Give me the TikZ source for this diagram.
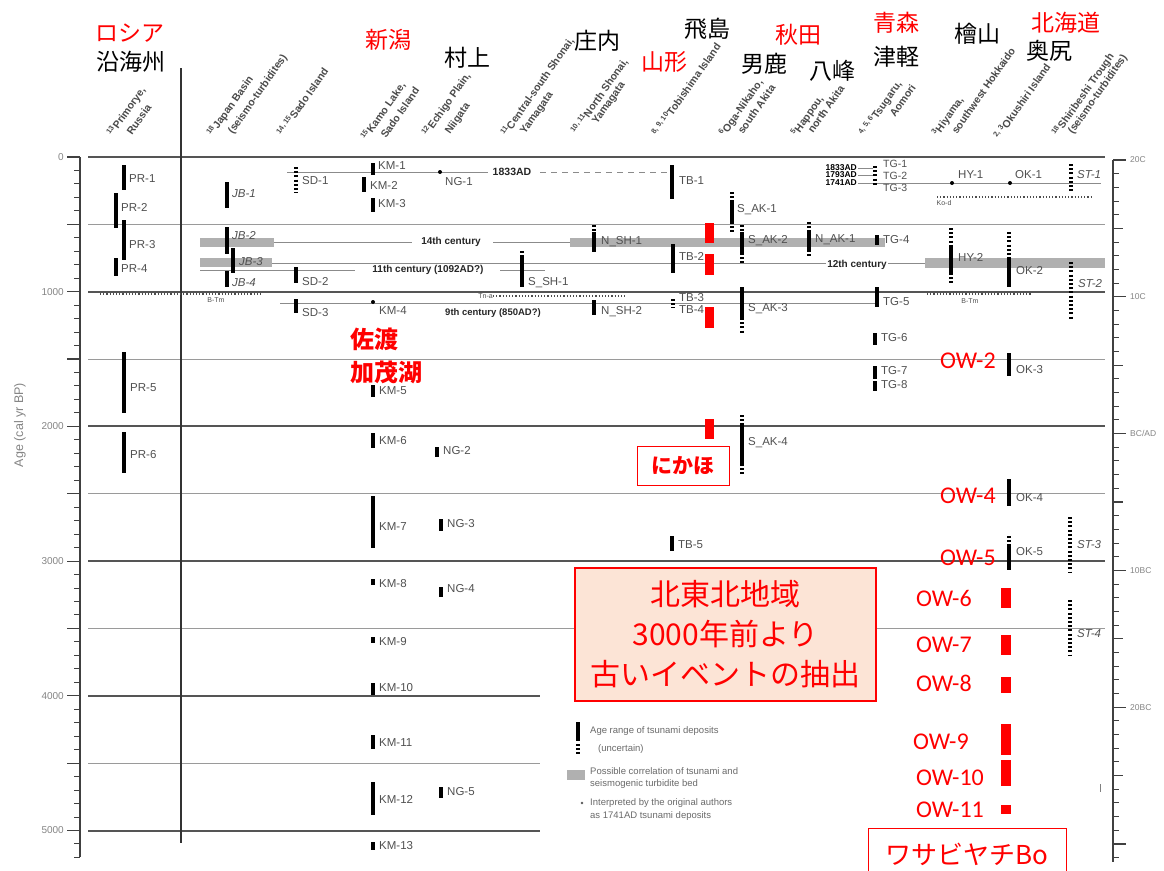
\documentclass[tikz,border=0pt]{standalone}
\usepackage{fontspec}
\setmainfont{Liberation Sans}
\newfontfamily\cjk{Noto Sans CJK JP}
\newfontfamily\calf{Carlito}
\definecolor{majgray}{HTML}{555555}
\definecolor{mingray}{HTML}{9A9A9A}
\definecolor{labgray}{HTML}{505050}
\definecolor{bandgray}{HTML}{B0B0B0}
\definecolor{peach}{HTML}{FCE4D6}
\definecolor{hdrgray}{HTML}{4A4A4A}
\definecolor{axgray}{HTML}{858585}
\definecolor{leggray}{HTML}{6A6A6A}
\tikzset{
  tbar/.style={line width=3.2pt, black},
  dbar/.style={line width=3.2pt, black, dash pattern=on 2pt off 2.2pt},
  lab/.style={font=\fontsize{11.5}{12}\selectfont, text=labgray, anchor=west, inner sep=0pt},
  ilab/.style={lab, font=\fontsize{11.5}{12}\selectfont\itshape},
  hdr/.style={font=\fontsize{10.5}{11}\selectfont\bfseries, text=hdrgray, rotate=55, anchor=base west, inner sep=0pt},
  jp/.style={font=\cjk\fontsize{23}{25}\selectfont, inner sep=0pt},
  jpr/.style={jp, text=red},
  cent/.style={font=\fontsize{10}{10}\selectfont\bfseries, text=black!85, inner sep=1pt, fill=white},
  smalllab/.style={font=\fontsize{7}{7}\selectfont, text=labgray, inner sep=0pt},
  majorln/.style={line width=2pt, draw=majgray},
  minorln/.style={line width=1.1pt, draw=mingray},
  thinln/.style={line width=1pt, draw=mingray!90!black},
  dotln/.style={line width=2.2pt, dash pattern=on 1.2pt off 2pt, draw=black!70},
  gband/.style={fill=bandgray},
  ow/.style={font=\calf\fontsize{24}{24}\selectfont, text=red, anchor=west, inner sep=0pt},
  leg/.style={font=\fontsize{9.5}{10}\selectfont, text=leggray, anchor=west, inner sep=0pt},
  axisln/.style={line width=1.2pt, draw=black!75},
  axlab/.style={font=\fontsize{10}{10}\selectfont, text=axgray, inner sep=0pt},
}
\begin{document}
\begin{tikzpicture}[x=1pt,y=-1pt]
\useasboundingbox (0,0) rectangle (1164,870);
\fill[white] (0,0) rectangle (1164,870);

% ---------- grid lines
\foreach \ag/\w in {500/1105,1500/1105,2500/1105,3500/1105,4500/540}
  \draw[minorln] (88,{157+0.1347*\ag}) -- (\w,{157+0.1347*\ag});
\foreach \ag/\w in {1000/1105,2000/1105,3000/1105,4000/540,5000/540}
  \draw[majorln] (88,{157+0.1347*\ag}) -- (\w,{157+0.1347*\ag});
\draw[majorln, line width=2.6pt] (88,157) -- (1105,157);

% divider
\draw[line width=1.2pt, black!80] (181,68) -- (181,843);

% ---------- left axis
\draw[axisln] (80,157) -- (80,857);
\foreach \i in {0,...,52}{
  \pgfmathtruncatemacro\m{mod(\i,5)}
  \ifnum\m=0
    \draw[axisln] (67,{157+13.47*\i}) -- (80,{157+13.47*\i});
  \else
    \draw[axisln, line width=1pt] (74,{157+13.47*\i}) -- (80,{157+13.47*\i});
  \fi
}
\foreach \ag in {0,1000,2000,3000,4000,5000}
  \node[axlab, anchor=east] (ax\ag) at (64,{157+0.1347*\ag}) {\ag};
\node[axlab, rotate=90, font=\fontsize{12.5}{13}\selectfont] (axtitle) at (20,425) {Age (cal yr BP)};

% ---------- right axis
\draw[axisln] (1113,160) -- (1113,862);
\foreach \i in {0,...,51}{
  \pgfmathtruncatemacro\m{mod(\i,10)}
  \pgfmathtruncatemacro\h{mod(\i,5)}
  \ifnum\m=0
    \draw[axisln] (1113,{160+13.68*\i}) -- (1126,{160+13.68*\i});
  \else\ifnum\h=0
    \draw[axisln] (1113,{160+13.68*\i}) -- (1123,{160+13.68*\i});
  \else
    \draw[axisln, line width=1pt] (1113,{160+13.68*\i}) -- (1119,{160+13.68*\i});
  \fi\fi
}
\node[axlab, anchor=west, font=\fontsize{8.5}{9}\selectfont] (r0) at (1130,160) {20C};
\node[axlab, anchor=west, font=\fontsize{8.5}{9}\selectfont] (r1) at (1130,296.8) {10C};
\node[axlab, anchor=west, font=\fontsize{8.5}{9}\selectfont] (r2) at (1130,433.6) {BC/AD};
\node[axlab, anchor=west, font=\fontsize{8.5}{9}\selectfont] (r3) at (1130,570.4) {10BC};
\node[axlab, anchor=west, font=\fontsize{8.5}{9}\selectfont] (r4) at (1130,707.2) {20BC};
\draw[line width=0.8pt, black!50] (1100,784) -- (1100,792);

% ---------- correlation bands
\fill[gband] (200,238) rectangle (274,247);
\fill[gband] (570,238) rectangle (885,247);
\fill[gband] (200,258) rectangle (272,267);
\fill[gband] (925,258) rectangle (1105,268);

% ---------- correlation lines
\draw[thinln] (287,172) -- (488,172);
\node[cent, fill=none, font=\fontsize{10.5}{10.5}\selectfont\bfseries] (t1833) at (512,172) {1833AD};
\draw[thinln, dash pattern=on 6pt off 5pt] (540,172) -- (670,172);
\draw[thinln] (274,242) -- (412,242);
\draw[thinln] (493,242) -- (570,242);
\node[cent, fill=none] (t14) at (451,242) {14th century};
\draw[thinln] (272,263) -- (925,263);
\node[cent] (t12) at (857,265) {12th century};
\draw[thinln] (200,270) -- (355,270);
\draw[thinln] (500,270) -- (545,270);
\node[cent, fill=none] (t11) at (428,270) {11th century (1092AD?)};
\draw[thinln] (280,303) -- (877,303);
\node[cent, fill=none, font=\fontsize{9.5}{9.5}\selectfont\bfseries] (t9) at (493,313) {9th century (850AD?)};
\draw[dotln] (493,296) -- (627,296);
\node[smalllab, anchor=east] (tna) at (493,296) {Tn-a};
\draw[dotln] (100,294) -- (263,294);
\node[smalllab] (btm1) at (216,300) {B-Tm};
\draw[dotln] (927,294) -- (1032,294);
\node[smalllab] (btm2) at (970,301) {B-Tm};
\draw[dotln] (937,197) -- (1092,197);
\node[smalllab] (kod) at (944,203) {Ko-d};
\draw[thinln] (858,183) -- (1101,183);
\draw[thinln] (858,168) -- (873,168);
\draw[thinln] (858,175.5) -- (873,175.5);
\node[font=\fontsize{8.5}{8.5}\selectfont\bfseries, anchor=east, inner sep=0pt] (y1833) at (857,167.5) {1833AD};
\node[font=\fontsize{8.5}{8.5}\selectfont\bfseries, anchor=east, inner sep=0pt] (y1793) at (857,175) {1793AD};
\node[font=\fontsize{8.5}{8.5}\selectfont\bfseries, anchor=east, inner sep=0pt] (y1741) at (857,182.5) {1741AD};

% ---------- bars: Primorye
\draw[tbar] (124,165) -- (124,190);
\draw[tbar] (116,193) -- (116,228);
\draw[tbar] (124,220) -- (124,260);
\draw[tbar] (116,258) -- (116,276);
\draw[tbar] (124,352) -- (124,413);
\draw[tbar] (124,432) -- (124,473);
% Japan Basin
\draw[tbar] (227,182) -- (227,208);
\draw[tbar] (227,227) -- (227,254);
\draw[tbar] (233,248) -- (233,273);
\draw[tbar] (227,271) -- (227,287);
% Sado
\draw[dbar] (296,167) -- (296,193);
\draw[tbar] (296,267) -- (296,283);
\draw[tbar] (296,299) -- (296,313);
% Kamo Lake
\draw[tbar] (373,163) -- (373,175);
\draw[tbar] (364,177) -- (364,192);
\draw[tbar] (373,198) -- (373,212);
\fill (373,302) circle (2);
\draw[tbar] (373,385) -- (373,397);
\draw[tbar] (373,433) -- (373,448);
\draw[tbar] (373,496) -- (373,548);
\draw[tbar] (373,579) -- (373,585);
\draw[tbar] (373,637) -- (373,643);
\draw[tbar] (373,683) -- (373,695);
\draw[tbar] (373,735) -- (373,749);
\draw[tbar] (373,782) -- (373,815);
\draw[tbar] (373,842) -- (373,850);
% Echigo
\fill (440,172) circle (2);
\draw[tbar] (437,447) -- (437,457);
\draw[tbar] (441,519) -- (441,531);
\draw[tbar] (441,587) -- (441,597);
\draw[tbar] (441,787) -- (441,798);
% Shonai
\draw[dbar] (522,251) -- (522,256);
\draw[tbar] (522,256) -- (522,287);
\draw[dbar] (594,225) -- (594,232);
\draw[tbar] (594,232) -- (594,252);
\draw[tbar] (594,300) -- (594,315);
% Tobishima
\draw[tbar] (672,165) -- (672,199);
\draw[tbar] (673,244) -- (673,273);
\draw[dbar] (673,299) -- (673,308);
\draw[tbar] (672,536) -- (672,551);
% Oga-Nikaho
\draw[dbar] (732,192) -- (732,200);
\draw[tbar] (732,200) -- (732,222);
\draw[dbar] (732,222) -- (732,232);
\draw[dbar] (742,225) -- (742,232);
\draw[tbar] (742,232) -- (742,253);
\draw[dbar] (742,253) -- (742,263);
\draw[tbar] (742,287) -- (742,318);
\draw[dbar] (742,318) -- (742,333);
\draw[dbar] (742,415) -- (742,423);
\draw[tbar] (742,423) -- (742,464);
\draw[dbar] (742,464) -- (742,474);
% Happou
\draw[dbar] (809,222) -- (809,230);
\draw[tbar] (809,230) -- (809,250);
\draw[dbar] (809,250) -- (809,257);
% Tsugaru
\draw[dbar] (875,166) -- (875,186);
\draw[tbar] (877,235) -- (877,245);
\draw[tbar] (877,287) -- (877,307);
\draw[tbar] (875,333) -- (875,345);
\draw[tbar] (875,366) -- (875,379);
\draw[tbar] (875,381) -- (875,391);
% Hiyama
\fill (952,183) circle (2);
\draw[dbar] (951,228) -- (951,245);
\draw[tbar] (951,245) -- (951,273);
\draw[dbar] (951,273) -- (951,285);
% Okushiri
\fill (1010,183) circle (2);
\draw[dbar] (1009,232) -- (1009,257);
\draw[tbar] (1009,257) -- (1009,287);
\draw[tbar] (1009,353) -- (1009,376);
\draw[tbar] (1009,479) -- (1009,506);
\draw[dbar] (1009,536) -- (1009,545);
\draw[tbar] (1009,545) -- (1009,570);
% Shiribeshi
\draw[dbar] (1071,164) -- (1071,193);
\draw[dbar] (1071,262) -- (1071,320);
\draw[dbar] (1070,517) -- (1070,573);
\draw[dbar] (1070,600) -- (1070,656);

% ---------- deposit labels
\node[lab] (PR1) at (129,179) {PR-1};
\node[lab] (PR2) at (121,207) {PR-2};
\node[lab] (PR3) at (129,245) {PR-3};
\node[lab] (PR4) at (121,269) {PR-4};
\node[lab] (PR5) at (130,388) {PR-5};
\node[lab] (PR6) at (130,455) {PR-6};
\node[ilab] (JB1) at (232,194) {JB-1};
\node[ilab] (JB2) at (232,236) {JB-2};
\node[ilab] (JB3) at (239,262) {JB-3};
\node[ilab] (JB4) at (232,283) {JB-4};
\node[lab] (SD1) at (302,181) {SD-1};
\node[lab] (SD2) at (302,282) {SD-2};
\node[lab] (SD3) at (302,313) {SD-3};
\node[lab] (KM1) at (378,166) {KM-1};
\node[lab] (KM2) at (370,185) {KM-2};
\node[lab] (KM3) at (378,204) {KM-3};
\node[lab] (KM4) at (379,311) {KM-4};
\node[lab] (KM5) at (379,391) {KM-5};
\node[lab] (KM6) at (379,441) {KM-6};
\node[lab] (KM7) at (379,527) {KM-7};
\node[lab] (KM8) at (379,584) {KM-8};
\node[lab] (KM9) at (379,642) {KM-9};
\node[lab] (KM10) at (379,688) {KM-10};
\node[lab] (KM11) at (379,743) {KM-11};
\node[lab] (KM12) at (379,799) {KM-12};
\node[lab] (KM13) at (379,846) {KM-13};
\node[lab] (NG1) at (445,182) {NG-1};
\node[lab] (NG2) at (443,451) {NG-2};
\node[lab] (NG3) at (447,524) {NG-3};
\node[lab] (NG4) at (447,589) {NG-4};
\node[lab] (NG5) at (447,792) {NG-5};
\node[lab] (SSH1) at (528,283) {S\_SH-1};
\node[lab] (NSH1) at (601,242) {N\_SH-1};
\node[lab] (NSH2) at (601,312) {N\_SH-2};
\node[lab] (TB1) at (679,181) {TB-1};
\node[lab] (TB2) at (679,256) {TB-2};
\node[lab] (TB3) at (679,298) {TB-3};
\node[lab] (TB4) at (679,310) {TB-4};
\node[lab] (TB5) at (678,545) {TB-5};
\node[lab] (SAK1) at (737,210) {S\_AK-1};
\node[lab] (SAK2) at (748,241) {S\_AK-2};
\node[lab] (SAK3) at (748,309) {S\_AK-3};
\node[lab] (SAK4) at (748,443) {S\_AK-4};
\node[lab] (NAK1) at (815,240) {N\_AK-1};
\node[lab, font=\fontsize{10.5}{11}\selectfont] (TG1) at (883,164) {TG-1};
\node[lab, font=\fontsize{10.5}{11}\selectfont] (TG2) at (883,176) {TG-2};
\node[lab, font=\fontsize{10.5}{11}\selectfont] (TG3) at (883,188) {TG-3};
\node[lab] (TG4) at (883,240) {TG-4};
\node[lab] (TG5) at (883,302) {TG-5};
\node[lab] (TG6) at (881,338) {TG-6};
\node[lab] (TG7) at (881,371) {TG-7};
\node[lab] (TG8) at (881,385) {TG-8};
\node[lab] (HY1) at (958,175) {HY-1};
\node[lab] (HY2) at (958,257) {HY-2};
\node[lab] (OK1) at (1015,175) {OK-1};
\node[lab] (OK2) at (1016,271) {OK-2};
\node[lab] (OK3) at (1016,370) {OK-3};
\node[lab] (OK4) at (1016,498) {OK-4};
\node[lab] (OK5) at (1016,552) {OK-5};
\node[ilab] (ST1) at (1077,175) {ST-1};
\node[ilab] (ST2) at (1078,284) {ST-2};
\node[ilab] (ST3) at (1077,545) {ST-3};
\node[ilab] (ST4) at (1077,634) {ST-4};

% ---------- column headers
\node[hdr] (h1a) at (113,137) {\textsuperscript{13}Primorye,};
\node[hdr] (h1b) at (132,136) {Russia};
\node[hdr] (h2a) at (213,137) {\textsuperscript{18}Japan Basin};
\node[hdr] (h2b) at (233,135) {(seismo-turbidites)};
\node[hdr] (h3a) at (283,137) {\textsuperscript{14, 15}Sado Island};
\node[hdr] (h4a) at (367,141) {\textsuperscript{15}Kamo Lake,};
\node[hdr] (h4b) at (386,139) {Sado Island};
\node[hdr] (h5a) at (428,137) {\textsuperscript{12}Echigo Plain,};
\node[hdr] (h5b) at (450,135) {Niigata};
\node[hdr] (h6a) at (507,137) {\textsuperscript{11}Central-south Shonai,};
\node[hdr] (h6b) at (525,135) {Yamagata};
\node[hdr] (h7a) at (577,135) {\textsuperscript{10, 11}North Shonai,};
\node[hdr] (h7b) at (597,125) {Yamagata};
\node[hdr] (h8a) at (658,137) {\textsuperscript{8, 9, 10}Tobishima Island};
\node[hdr] (h9a) at (725,137) {\textsuperscript{6}Oga-Nikaho,};
\node[hdr] (h9b) at (743,135) {south Akita};
\node[hdr] (h10a) at (797,137) {\textsuperscript{5}Happou,};
\node[hdr] (h10b) at (813,134) {north Akita};
\node[hdr] (h11a) at (865,137) {\textsuperscript{4, 5, 6}Tsugaru,};
\node[hdr] (h11b) at (895,118) {Aomori};
\node[hdr] (h12a) at (938,137) {\textsuperscript{3}Hiyama,};
\node[hdr] (h12b) at (957,135) {southwest Hokkaido};
\node[hdr] (h13a) at (1000,140) {\textsuperscript{2, 3}Okushiri Island};
\node[hdr] (h14a) at (1058,137) {\textsuperscript{18}Shiribeshi Trough};
\node[hdr] (h14b) at (1073,135) {(seismo-turbidites)};

% ---------- legend
\draw[tbar] (578,722) -- (578,741);
\draw[dbar] (578,744) -- (578,756);
\fill[bandgray] (567,770) rectangle (585,780);
\fill[black!65] (582,803) circle (1.4);
\node[leg] (lg1) at (590,731) {Age range of tsunami deposits};
\node[leg] (lg2) at (598,749) {(uncertain)};
\node[leg] (lg3) at (590,771) {Possible correlation of tsunami and};
\node[leg] (lg4) at (590,784) {seismogenic turbidite bed};
\node[leg] (lg5) at (590,803) {Interpreted by the original authors};
\node[leg] (lg6) at (590,816) {as 1741AD tsunami deposits};

% ---------- Japanese place names
\node[jpr] (ros) at (130,33) {ロシア};
\node[jp] (enk) at (131,62) {沿海州};
\node[jpr] (nii) at (388,40) {新潟};
\node[jp] (mur) at (467,58) {村上};
\node[jp] (sho) at (597,41) {庄内};
\node[jpr] (yam) at (664,62) {山形};
\node[jp] (tob) at (707,29) {飛島};
\node[jp] (oga) at (764,64) {男鹿};
\node[jpr] (aki) at (798,35) {秋田};
\node[jp] (hap) at (832,71) {八峰};
\node[jpr] (aom) at (896,23) {青森};
\node[jp] (tsu) at (896,57) {津軽};
\node[jp] (hiy) at (977,34) {檜山};
\node[jpr] (hok) at (1066,23) {北海道};
\node[jp] (oku) at (1049,51) {奥尻};
\node[jpr, font=\cjk\bfseries\fontsize{24}{26}\selectfont, anchor=west] (sado) at (350,339) {佐渡};
\node[jpr, font=\cjk\bfseries\fontsize{24}{26}\selectfont, anchor=west] (kamo) at (350,372) {加茂湖};

% ---------- red highlights
\fill[red] (705,223) rectangle (714,243);
\fill[red] (705,254) rectangle (714,275);
\fill[red] (705,307) rectangle (714,328);
\fill[red] (705,419) rectangle (714,439);
\node[draw=red, line width=1pt, fill=white, minimum width=92pt, minimum height=39pt, inner sep=0pt,
  text=red, font=\cjk\bfseries\fontsize{21}{22}\selectfont] (nikaho) at (683,465.5) {にかほ};
\node[draw=red, line width=1.2pt, fill=peach, minimum width=301pt, minimum height=133pt, inner sep=0pt,
  align=center, text=red, font=\cjk\fontsize{30}{40}\selectfont] (region) at (725.5,634.5)
  {北東北地域\\3000年前より\\古いイベントの抽出};

\fill[red] (1001,588) rectangle (1011,608);
\fill[red] (1001,635) rectangle (1011,655);
\fill[red] (1001,677) rectangle (1011,693);
\fill[red] (1001,724) rectangle (1011,755);
\fill[red] (1001,760) rectangle (1011,786);
\fill[red] (1001,805) rectangle (1011,814);
\node[ow] (ow2) at (940,361) {OW-2};
\node[ow] (ow4) at (940,496) {OW-4};
\node[ow] (ow5) at (940,558) {OW-5};
\node[ow] (ow6) at (916,598) {OW-6};
\node[ow] (ow7) at (916,645) {OW-7};
\node[ow] (ow8) at (916,683) {OW-8};
\node[ow] (ow9) at (913,742) {OW-9};
\node[ow] (ow10) at (916,778) {OW-10};
\node[ow] (ow11) at (916,810) {OW-11};
\node[draw=red, line width=1pt, fill=white, minimum width=198pt, minimum height=52pt, inner sep=0pt,
  text=red, font=\cjk\fontsize{26}{28}\selectfont] (wasabi) at (967,854) {ワサビヤチBo};
\end{tikzpicture}
\end{document}
